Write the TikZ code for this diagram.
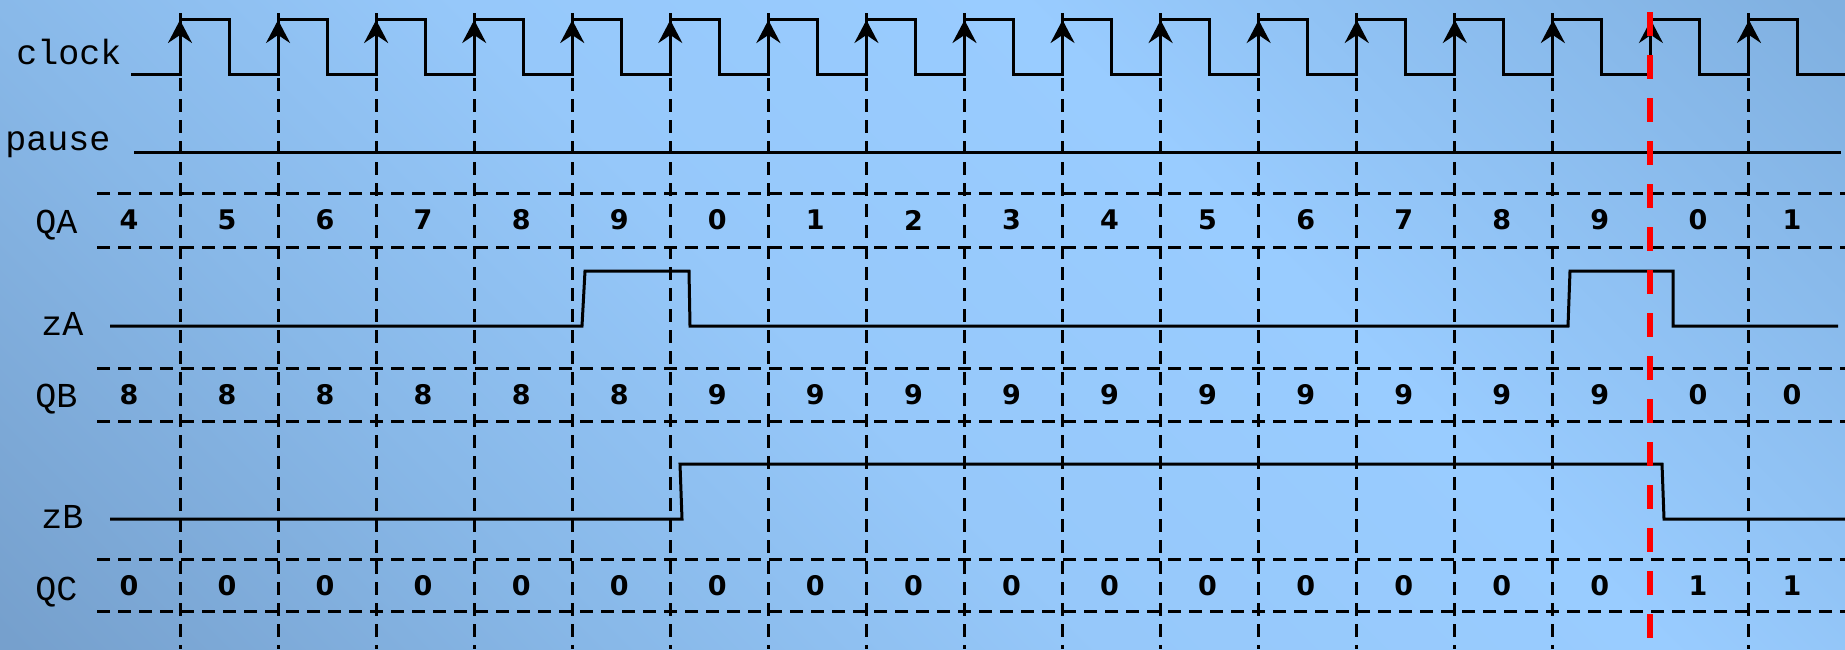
\documentclass[tikz,border=0pt]{standalone}
\usepackage{fontspec}
\setmonofont{Liberation Mono}
\newfontfamily\digitfont{DejaVu Sans}
\usetikzlibrary{arrows.meta}
\definecolor{bgA}{RGB}{118,160,205}
\definecolor{bgB}{RGB}{136,184,232}
\definecolor{bgC}{RGB}{150,200,250}
\definecolor{bgD}{RGB}{153,204,255}
\definecolor{bgE}{RGB}{128,176,224}
\pgfdeclarehorizontalshading{bgshade}{100bp}{color(0bp)=(bgA); color(15bp)=(bgA); color(32bp)=(bgB); color(46bp)=(bgC); color(62bp)=(bgD); color(85bp)=(bgE); color(100bp)=(bgE)}
\begin{document}
\begin{tikzpicture}[x=0.5pt,y=-0.5pt,
  sig/.style={line width=1.5pt, black, line join=miter},
  grid/.style={line width=1.5pt, black, dash pattern=on 6.5pt off 4pt},
  redline/.style={line width=3pt, red, dash pattern=on 12pt off 9.5pt},
  lbl/.style={font=\ttfamily\fontsize{17.5}{20}\selectfont, anchor=base west, inner sep=0pt},
  val/.style={font=\digitfont\bfseries\fontsize{13.5}{15}\selectfont, inner sep=0pt, anchor=center},
  tip/.style={line width=1.5pt, -{Stealth[length=11.5pt,width=12pt,inset=4pt]}}]
\useasboundingbox (0,0) rectangle (1845,649);
\shade[shading=bgshade, shading angle=45] (0,0) rectangle (1845,649);
% labels
\node[lbl] (lclock) at (16,64) {clock};
\node[lbl] (lpause) at (5,150) {pause};
\node[lbl] (lQA) at (35,233) {QA};
\node[lbl] (lzA) at (41,335) {zA};
\node[lbl] (lQB) at (35,407) {QB};
\node[lbl] (lzB) at (41,528) {zB};
\node[lbl] (lQC) at (35,600) {QC};
% vertical dashed grid
\foreach \k in {0,...,14,16}
  \draw[grid] ({180+98.06*\k},78) -- ({180+98.06*\k},649);
% horizontal dashed rows
\foreach \y in {193,247,368,421,559,611}
  \draw[grid] (97,\y) -- (1845,\y);
% clock
\draw[sig] (131,74) \foreach \k in {0,...,16} { -- ({180+98.06*\k},74) -- ({180+98.06*\k},19) -- ({229+98.06*\k},19) -- ({229+98.06*\k},74) } -- (1845,74);
\foreach \k in {0,...,16} {
  \draw[sig] ({180+98.06*\k},20) -- ({180+98.06*\k},13);
  \draw[tip] ({180+98.06*\k},50) -- ({180+98.06*\k},20);
}
% pause
\draw[sig] (134,152) -- (1841,152);
% zA
\draw[sig] (110,326) -- (582,326) -- (585,271) -- (689,271) -- (690,326) -- (1568,326) -- (1570,271) -- (1673,271) -- (1673,326) -- (1838,326);
% zB
\draw[sig] (110,519) -- (682,519) -- (680,464) -- (1662,464) -- (1664,519) -- (1845,519);
% values
\foreach \a/\b/\c [count=\j from 0] in {4/8/0,5/8/0,6/8/0,7/8/0,8/8/0,9/8/0,0/9/0,1/9/0,2/9/0,3/9/0,4/9/0,5/9/0,6/9/0,7/9/0,8/9/0,9/9/0,0/0/1,1/0/1} {
  \pgfmathsetmacro\xx{\j==0 ? 129 : (\j==17 ? 1792 : 227+98.06*(\j-1))}
  \node[val] (qa\j) at (\xx,220) {\a};
  \node[val] (qb\j) at (\xx,395) {\b};
  \node[val] (qc\j) at (\xx,586) {\c};
}
% red marker
\draw[redline] (1650,12) -- (1650,649);
\end{tikzpicture}
\end{document}
